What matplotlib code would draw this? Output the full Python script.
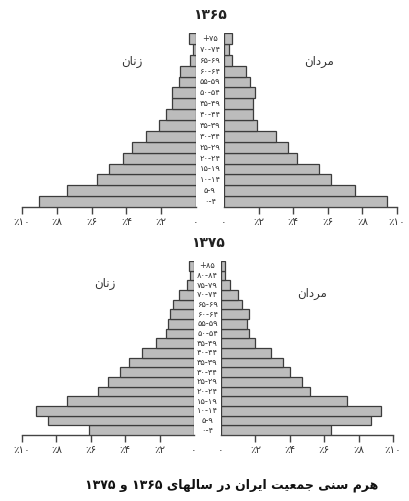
import matplotlib
matplotlib.use("Agg")
import matplotlib.pyplot as plt
from matplotlib.transforms import blended_transform_factory

plt.rcParams['font.family'] = ['DejaVu Sans']

# Données (pourcentages)
ages_1365 = ['۰-۴', '۵-۹', '۱۰-۱۴', '۱۵-۱۹', '۲۰-۲۴', '۲۵-۲۹', '۳۰-۳۴', '۳۵-۳۹',
             '۴۰-۴۴', '۴۵-۴۹', '۵۰-۵۴', '۵۵-۵۹', '۶۰-۶۴', '۶۵-۶۹', '۷۰-۷۴', '+۷۵']
women_1365 = [9.0, 7.4, 5.7, 5.0, 4.2, 3.7, 2.9, 2.1, 1.7, 1.4, 1.4, 1.0, 0.9, 0.35, 0.2, 0.4]
men_1365 = [9.4, 7.6, 6.2, 5.5, 4.2, 3.7, 3.0, 1.9, 1.7, 1.7, 1.8, 1.5, 1.3, 0.45, 0.3, 0.45]

ages_1375 = ['۰-۴', '۵-۹', '۱۰-۱۴', '۱۵-۱۹', '۲۰-۲۴', '۲۵-۲۹', '۳۰-۳۴', '۳۵-۳۹',
             '۴۰-۴۴', '۴۵-۴۹', '۵۰-۵۴', '۵۵-۵۹', '۶۰-۶۴', '۶۵-۶۹', '۷۰-۷۴', '۷۵-۷۹',
             '۸۰-۸۴', '+۸۵']
women_1375 = [6.1, 8.5, 9.2, 7.4, 5.6, 5.0, 4.3, 3.8, 3.0, 2.2, 1.6, 1.5, 1.4, 1.2, 0.9, 0.4, 0.25, 0.3]
men_1375 = [6.4, 8.7, 9.3, 7.3, 5.2, 4.7, 4.0, 3.6, 2.9, 2.0, 1.6, 1.5, 1.6, 1.2, 1.0, 0.5, 0.25, 0.25]

ticks = [0, 2, 4, 6, 8, 10]
tick_labels = ['۰', '٪۲', '٪۴', '٪۶', '٪۸', '٪۱۰']

# textes persans (formes de présentation, ordre visuel)
zanan = '\uFEE5\uFE8E\uFEE7\uFEAF'
mardan = '\uFEE5\uFE8D\uFEA9\uFEAE\uFEE3'
caption = ('۱۳۷۵ ' + '\uFEED' + ' ۱۳۶۵ '
           + '\uFEEF\uFE8E\uFEEC\uFEDF\uFE8E\uFEB3' + ' '
           + '\uFEAD\uFEA9' + ' '
           + '\uFEE5\uFE8D\uFEAE\uFEF3\uFE8D' + ' '
           + '\uFE96\uFEF4\uFECC\uFEE4\uFE9F' + ' '
           + '\uFEF0\uFEE8\uFEB3' + ' '
           + '\uFEE1\uFEAE\uFEEB')

W, H = 409, 501
fig = plt.figure(figsize=(W / 100, H / 100), dpi=100)
fig.patch.set_facecolor('white')

bar_color = '#bcbcbc'
edge_color = '#3c3c3c'


def pyramid(year, ages, women, men, top, bottom, xl0, xl1, xr0, xr1, ylab_w, ylab_m):
    # xl0..xl1 : axe gauche (10% -> 0), xr0..xr1 : axe droit (0 -> 10%) en pixels
    axL = fig.add_axes([xl0 / W, 1 - bottom / H, (xl1 - xl0) / W, (bottom - top) / H])
    axR = fig.add_axes([xr0 / W, 1 - bottom / H, (xr1 - xr0) / W, (bottom - top) / H])
    y = list(range(len(ages)))
    axL.barh(y, women, height=1.0, color=bar_color, edgecolor=edge_color, linewidth=0.9, zorder=3)
    axR.barh(y, men, height=1.0, color=bar_color, edgecolor=edge_color, linewidth=0.9, zorder=3)
    axL.set_xlim(10, 0)
    axR.set_xlim(0, 10)
    for ax in (axL, axR):
        ax.set_ylim(-0.5, len(ages) - 0.5)
        ax.set_facecolor('none')
        for s in ['top', 'left', 'right']:
            ax.spines[s].set_visible(False)
        ax.spines['bottom'].set_color('#444444')
        ax.spines['bottom'].set_linewidth(1.0)
        ax.set_yticks([])
        ax.set_xticks(ticks)
        ax.set_xticklabels(tick_labels, fontsize=7.5, color='#333333')
        ax.tick_params(axis='x', length=5, width=1.0, color='#444444', pad=2)
        ax.xaxis.get_major_ticks()[0].tick1line.set_visible(False)
    # étiquettes des âges au centre
    tr = blended_transform_factory(fig.transFigure, axL.transData)
    xc = (xl1 + xr0) / 2 / W
    for i, a in enumerate(ages):
        axL.text(xc, i, a, transform=tr, ha='center', va='center', fontsize=6,
                 color='#333333', clip_on=False)
    fig.text(xc, 1 - (top - 18) / H, year, ha='center', va='center',
             fontsize=10, fontweight='bold', color='#222222')
    fig.text(ylab_w[0] / W, 1 - ylab_w[1] / H, zanan, ha='center', va='center',
             fontsize=8.5, color='#333333')
    fig.text(ylab_m[0] / W, 1 - ylab_m[1] / H, mardan, ha='center', va='center',
             fontsize=8.5, color='#333333')


pyramid('۱۳۶۵', ages_1365, women_1365, men_1365, 33, 207, 22, 196, 224, 397,
        (132, 62), (319, 62))
pyramid('۱۳۷۵', ages_1375, women_1375, men_1375, 261, 435, 22, 194, 221, 393,
        (105, 283), (312, 293))

fig.text(232 / W, 1 - 485 / H, caption, ha='center', va='center',
         fontsize=9, fontweight='bold', color='#111111')

fig.savefig('out.png', dpi=100, facecolor='white')
